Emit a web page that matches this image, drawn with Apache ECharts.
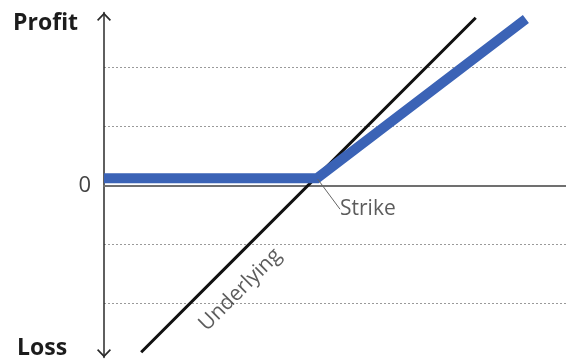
<!DOCTYPE html>
<html>
<head>
<meta charset="utf-8">
<script src="https://cdn.jsdelivr.net/npm/echarts@6/dist/echarts.min.js"></script>
<style>
  html, body { margin: 0; padding: 0; background: #fff; }
  #chart { width: 566px; height: 363px; }
</style>
</head>
<body>
<div id="chart"></div>
<script>
// Long call payoff against holding the underlying (price on x, profit/loss on y)
const underlyingX = [0.63, 2.0, 6.3];
const underlyingY = [-2.83, -1.46, 2.84];
const optionX = [0, 3.61, 7.15];
const optionY = [0.12, 0.12, 2.82];
const strikePoint = [3.61, 0.12];
const underlyingLabelPoint = [2.0, -1.46];
const yTickLabels = { '0': '0' };

const FONT = '"Open Sans", "Noto Sans", sans-serif';

// Open chevron used as the arrow head on both ends of the profit axis
const chevron = 'path://M6.5,0 L13,6.6 L11.9,7.7 L6.5,2.2 L1.1,7.7 L0,6.6 Z';

const toPairs = (xs, ys) => xs.map((x, i) => [x, ys[i]]);

const chart = echarts.init(document.getElementById('chart'), null, { renderer: 'canvas' });

chart.setOption({
  animation: false,
  backgroundColor: '#ffffff',
  grid: { left: 104, right: 0, top: 12.5, bottom: 5.5, containLabel: false },
  xAxis: {
    type: 'value',
    min: 0,
    max: 7.83,
    axisLine: { onZero: true, lineStyle: { color: '#707070', width: 2 } },
    axisTick: { show: false },
    axisLabel: { show: false },
    splitLine: { show: false }
  },
  yAxis: {
    type: 'value',
    min: -2.92,
    max: 2.93,
    splitNumber: 6,
    axisLine: {
      show: true,
      symbol: [chevron, chevron],
      symbolSize: [14, 8.5],
      symbolOffset: [4.25, -4.25],
      lineStyle: { color: '#2a2a2a', width: 1.5 }
    },
    axisTick: { show: false },
    axisLabel: {
      margin: 13,
      color: '#444',
      fontFamily: FONT,
      fontSize: 22,
      formatter: v => yTickLabels[String(v)] || ''
    },
    splitLine: {
      show: true,
      showMinLine: false,
      showMaxLine: false,
      lineStyle: { color: '#9a9a9a', type: [2, 2], width: 1 }
    }
  },
  graphic: [
    {
      type: 'text', left: 13, top: 12,
      style: { text: 'Profit', fontFamily: FONT, fontWeight: 'bold', fontSize: 23, fill: '#1c1c1c' }
    },
    {
      type: 'text', left: 17, top: 337,
      style: { text: 'Loss', fontFamily: FONT, fontWeight: 'bold', fontSize: 23, fill: '#1c1c1c' }
    }
  ],
  series: [
    {
      name: 'Underlying',
      type: 'line',
      data: toPairs(underlyingX, underlyingY),
      showSymbol: false,
      symbol: 'none',
      lineStyle: { color: '#111111', width: 3 },
      z: 3
    },
    {
      name: 'Option',
      type: 'line',
      data: toPairs(optionX, optionY),
      showSymbol: false,
      symbol: 'none',
      lineStyle: { color: '#3b63b6', width: 10, cap: 'butt', join: 'miter' },
      z: 4
    },
    {
      name: 'Strike',
      type: 'scatter',
      data: [strikePoint],
      symbolSize: 2,
      itemStyle: { color: '#3b63b6' },
      z: 5,
      label: {
        show: true,
        position: 'right',
        distance: 0,
        formatter: 'Strike',
        fontFamily: FONT,
        fontSize: 21,
        color: '#333'
      },
      labelLayout: { dx: 22, dy: 31 },
      labelLine: { show: true, lineStyle: { color: '#666', width: 1 } }
    },
    {
      name: 'UnderlyingLabel',
      type: 'scatter',
      data: [underlyingLabelPoint],
      symbolSize: 0,
      silent: true,
      label: {
        show: true,
        position: 'inside',
        rotate: 45,
        offset: [0, 26],
        formatter: 'Underlying',
        fontFamily: FONT,
        fontSize: 21,
        color: '#333'
      }
    }
  ]
});
</script>
</body>
</html>
